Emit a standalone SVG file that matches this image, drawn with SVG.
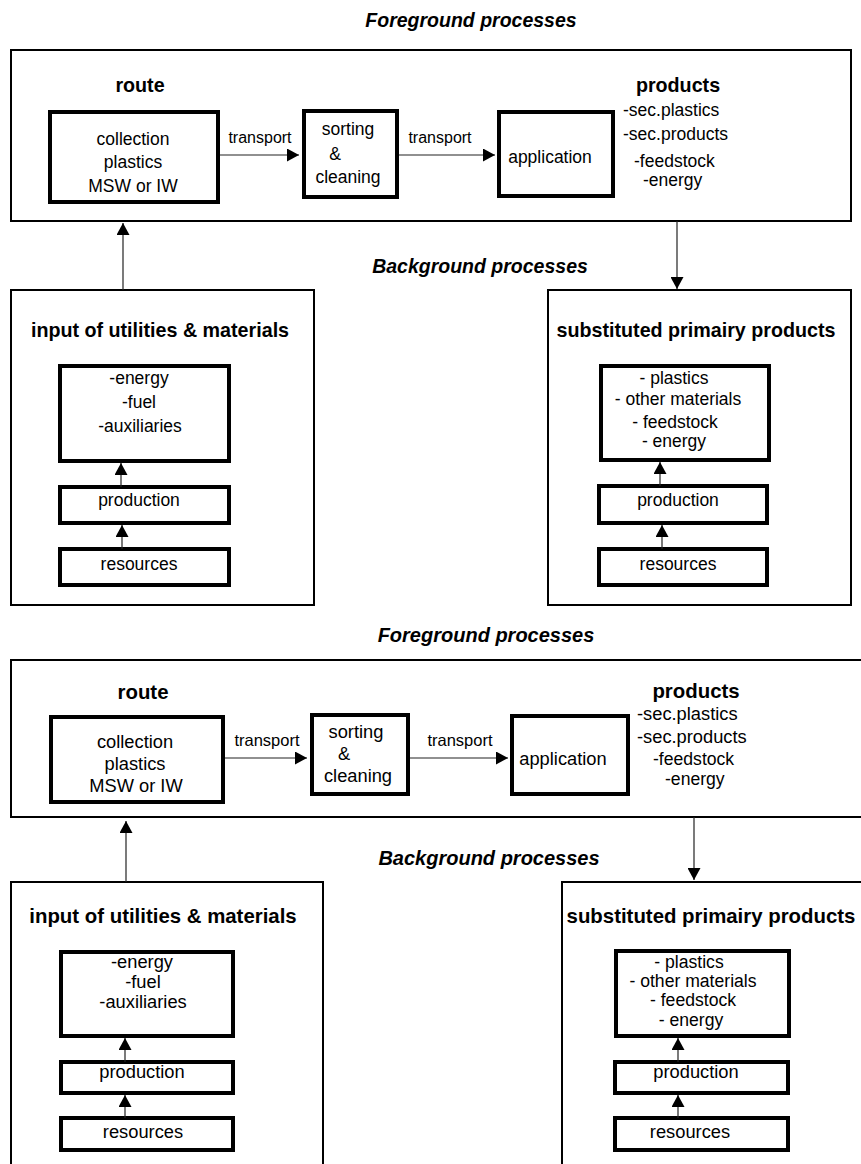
<svg xmlns="http://www.w3.org/2000/svg" width="861" height="1164" viewBox="0 0 861 1164">
<defs>
<marker id="ah" markerUnits="userSpaceOnUse" markerWidth="13" markerHeight="13" refX="12" refY="6.5" orient="auto">
<path d="M0,0 L12,6.5 L0,13 z" fill="#000"/>
</marker>
<style>
text{font-family:"Liberation Sans",Arial,sans-serif;fill:#000}
.t{font-size:17.5px;text-anchor:middle}
.ts{font-size:17.5px}
.b{font-size:19.7px;font-weight:bold;text-anchor:middle}
.h{font-size:19.5px;font-weight:bold;font-style:italic;text-anchor:middle}
.tr{font-size:16px;text-anchor:middle}
.t2{font-size:18.3px;text-anchor:middle}
.t2s{font-size:17.6px;text-anchor:middle}
.ts2{font-size:18.3px}
.ts2s{font-size:17.6px}
.b2{font-size:20.4px;font-weight:bold;text-anchor:middle}
.h2{font-size:20px;font-weight:bold;font-style:italic;text-anchor:middle}
.tr2{font-size:16.5px;text-anchor:middle}
.outer{fill:#fff;stroke:#000;stroke-width:2}
.box{fill:#fff;stroke:#000;stroke-width:4}
.con{stroke:#222;stroke-width:1.2;fill:none;marker-end:url(#ah)}
</style>
</defs>
<rect width="861" height="1164" fill="#fff"/>

<!-- ===== Top diagram ===== -->
<text class="h" x="471" y="27">Foreground processes</text>
<text class="h" x="480" y="273">Background processes</text>

<g id="fg1">
<rect class="outer" x="11" y="50" width="840" height="171"/>
<text class="b" x="140" y="92">route</text>
<text class="b" x="678" y="92">products</text>
<text class="ts" x="623" y="116">-sec.plastics</text>
<text class="ts" x="623" y="140">-sec.products</text>
<text class="ts" x="634" y="167">-feedstock</text>
<text class="ts" x="643" y="186">-energy</text>
</g>
<g id="collection1">
<rect class="box" x="50" y="112" width="168" height="90"/>
<text class="t" x="133" y="145">collection</text>
<text class="t" x="133" y="168">plastics</text>
<text class="t" x="133" y="192">MSW or IW</text>
</g>
<g id="sorting1">
<rect class="box" x="304" y="111" width="93" height="86"/>
<text class="t" x="348" y="135">sorting</text>
<text class="t" x="335" y="160">&amp;</text>
<text class="t" x="348" y="183">cleaning</text>
</g>
<g id="application1">
<rect class="box" x="499" y="112" width="114" height="84"/>
<text class="t" x="550" y="163">application</text>
</g>
<g id="utilities1">
<rect class="outer" x="11" y="290" width="303" height="315"/>
<text class="b" x="160" y="337">input of utilities &amp; materials</text>
</g>
<g id="ubox1">
<rect class="box" x="60" y="366" width="169" height="95"/>
<text class="t" x="139" y="384">-energy</text>
<text class="t" x="139" y="408">-fuel</text>
<text class="t" x="140" y="432">-auxiliaries</text>
</g>
<g id="uprod1">
<rect class="box" x="60" y="487" width="169" height="36"/>
<text class="t" x="139" y="506">production</text>
</g>
<g id="ures1">
<rect class="box" x="60" y="549" width="169" height="36"/>
<text class="t" x="139" y="570">resources</text>
</g>
<g id="substituted1">
<rect class="outer" x="548" y="290" width="303" height="315"/>
<text class="b" x="696" y="337">substituted primairy products</text>
</g>
<g id="sbox1">
<rect class="box" x="601" y="366" width="168" height="94"/>
<text class="t" x="674" y="384">- plastics</text>
<text class="t" x="678" y="405">- other materials</text>
<text class="t" x="675" y="428">- feedstock</text>
<text class="t" x="674" y="447">- energy</text>
</g>
<g id="sprod1">
<rect class="box" x="599" y="486" width="168" height="37"/>
<text class="t" x="678" y="506">production</text>
</g>
<g id="sres1">
<rect class="box" x="599" y="549" width="168" height="36"/>
<text class="t" x="678" y="570">resources</text>
</g>

<!-- ===== Bottom diagram ===== -->
<text class="h2" x="486" y="642">Foreground processes</text>
<text class="h2" x="489" y="865">Background processes</text>

<g id="fg2">
<rect class="outer" x="11" y="660" width="870" height="157"/>
<text class="b2" x="143" y="699">route</text>
<text class="b2" x="696" y="698">products</text>
<text class="ts2" x="637" y="720">-sec.plastics</text>
<text class="ts2" x="637" y="743">-sec.products</text>
<text class="ts2s" x="653" y="765">-feedstock</text>
<text class="ts2s" x="665" y="785">-energy</text>
</g>
<g id="collection2">
<rect class="box" x="51" y="717" width="172" height="85"/>
<text class="t2" x="135" y="748">collection</text>
<text class="t2" x="135" y="770">plastics</text>
<text class="t2" x="136" y="792">MSW or IW</text>
</g>
<g id="sorting2">
<rect class="box" x="312" y="715" width="96" height="79"/>
<text class="t2" x="356" y="738">sorting</text>
<text class="t2" x="344" y="760">&amp;</text>
<text class="t2" x="358" y="782">cleaning</text>
</g>
<g id="application2">
<rect class="box" x="512" y="716" width="116" height="78"/>
<text class="t2" x="563" y="765">application</text>
</g>
<g id="utilities2">
<rect class="outer" x="11" y="882" width="312" height="300"/>
<text class="b2" x="163" y="923">input of utilities &amp; materials</text>
</g>
<g id="ubox2">
<rect class="box" x="61" y="952" width="172" height="84"/>
<text class="t2" x="142" y="968">-energy</text>
<text class="t2" x="143" y="988">-fuel</text>
<text class="t2" x="143" y="1008">-auxiliaries</text>
</g>
<g id="uprod2">
<rect class="box" x="61" y="1062" width="172" height="31"/>
<text class="t2" x="142" y="1078">production</text>
</g>
<g id="ures2">
<rect class="box" x="61" y="1118" width="172" height="32"/>
<text class="t2" x="143" y="1138">resources</text>
</g>
<g id="substituted2">
<rect class="outer" x="562" y="882" width="320" height="300"/>
<text class="b2" x="711" y="923">substituted primairy products</text>
</g>
<g id="sbox2">
<rect class="box" x="616" y="951" width="173" height="85"/>
<text class="t2s" x="689" y="968">- plastics</text>
<text class="t2s" x="693" y="987">- other materials</text>
<text class="t2s" x="693" y="1006">- feedstock</text>
<text class="t2s" x="691" y="1026">- energy</text>
</g>
<g id="sprod2">
<rect class="box" x="615" y="1062" width="173" height="31"/>
<text class="t2" x="696" y="1078">production</text>
</g>
<g id="sres2">
<rect class="box" x="615" y="1118" width="173" height="32"/>
<text class="t2" x="690" y="1138">resources</text>
</g>

<g id="connectors">
<line class="con" x1="220" y1="155" x2="299" y2="155"/>
<text class="tr" x="260" y="143">transport</text>
<line class="con" x1="399" y1="155" x2="495" y2="155"/>
<text class="tr" x="440" y="143">transport</text>
<line class="con" x1="677" y1="221" x2="677" y2="289"/>
<line class="con" x1="123" y1="290" x2="123" y2="223"/>
<line class="con" x1="121" y1="487" x2="121" y2="463"/>
<line class="con" x1="122" y1="549" x2="122" y2="525"/>
<line class="con" x1="660" y1="486" x2="660" y2="462"/>
<line class="con" x1="662" y1="549" x2="662" y2="525"/>

<line class="con" x1="225" y1="758" x2="307" y2="758"/>
<text class="tr2" x="267" y="746">transport</text>
<line class="con" x1="410" y1="758" x2="508" y2="758"/>
<text class="tr2" x="460" y="746">transport</text>
<line class="con" x1="694" y1="817" x2="694" y2="880"/>
<line class="con" x1="126" y1="882" x2="126" y2="821"/>
<line class="con" x1="125" y1="1062" x2="125" y2="1038"/>
<line class="con" x1="125" y1="1118" x2="125" y2="1095"/>
<line class="con" x1="678" y1="1062" x2="678" y2="1038"/>
<line class="con" x1="678" y1="1118" x2="678" y2="1095"/>
</g>
</svg>
